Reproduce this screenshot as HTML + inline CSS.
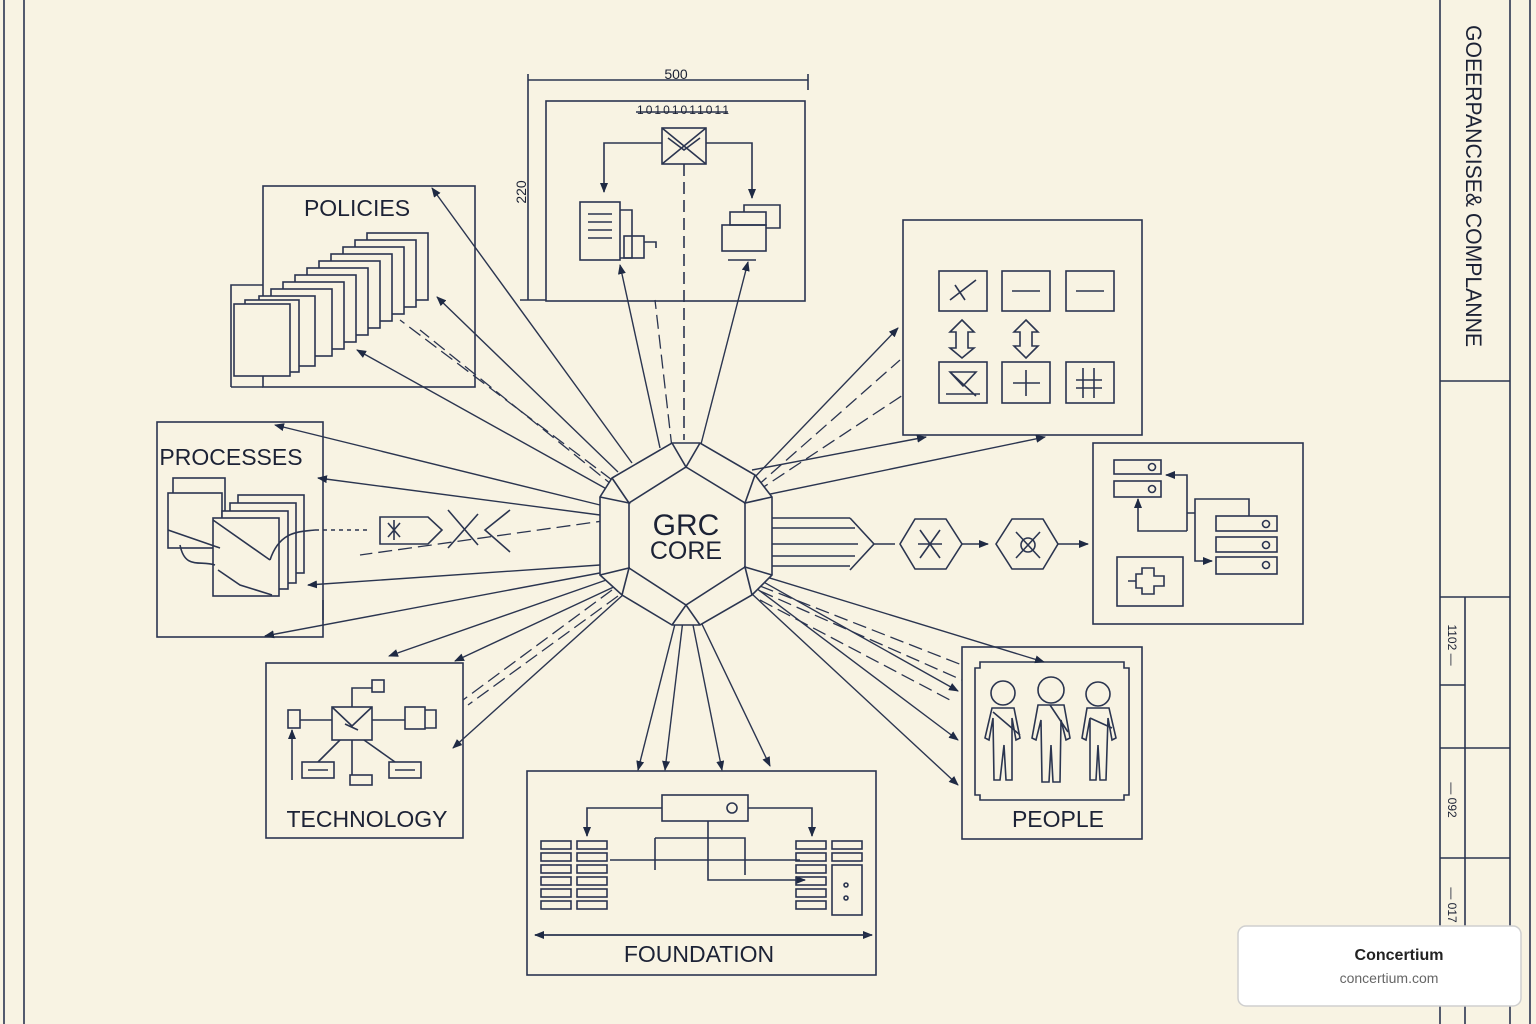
<!DOCTYPE html>
<html><head><meta charset="utf-8"><style>
html,body{margin:0;padding:0;background:#f8f3e3;}
svg{display:block}
text{font-family:"Liberation Sans",sans-serif;fill:#1c2235}
</style></head><body>
<svg width="1536" height="1024" viewBox="0 0 1536 1024" xmlns="http://www.w3.org/2000/svg">
<defs>
<marker id="a" markerWidth="10" markerHeight="8" refX="9" refY="4" orient="auto" markerUnits="userSpaceOnUse"><path d="M0,0 L10,4 L0,8 Z" fill="#1f2a44"/></marker>
</defs>
<rect width="1536" height="1024" fill="#f8f3e3"/>
<g fill="none" stroke="#2b3550" stroke-width="1.6">
<!-- frame -->
<line x1="4" y1="0" x2="4" y2="1024"/><line x1="24" y1="0" x2="24" y2="1024"/>
<line x1="1440" y1="0" x2="1440" y2="1024"/><line x1="1510" y1="0" x2="1510" y2="1024"/>
<line x1="1530" y1="0" x2="1530" y2="1024"/>
<line x1="1440" y1="381" x2="1510" y2="381"/>
<line x1="1440" y1="597" x2="1510" y2="597"/><line x1="1465" y1="597" x2="1465" y2="1024"/>
<line x1="1440" y1="685" x2="1465" y2="685"/><line x1="1440" y1="748" x2="1510" y2="748"/>
<line x1="1440" y1="858" x2="1510" y2="858"/>

<!-- dimension -->
<line x1="528" y1="80" x2="808" y2="80"/><line x1="528" y1="74" x2="528" y2="300"/>
<line x1="808" y1="74" x2="808" y2="90"/><line x1="520" y1="300" x2="546" y2="300"/>

<!-- top box -->
<rect x="546" y="101" width="259" height="200"/>
<line x1="636" y1="112" x2="728" y2="112"/>
<rect x="662" y="128" width="44" height="36"/><path d="M662,128 L706,164 M706,128 L662,164 M668,138 L684,150 L700,138"/>
<path d="M662,143 H604 V192" marker-end="url(#a)"/><path d="M706,143 H752 V198" marker-end="url(#a)"/>
<line x1="684" y1="164" x2="684" y2="440" stroke-dasharray="12,6"/>
<rect x="580" y="202" width="40" height="58"/><path d="M620,210 H632 V258 H620"/><rect x="624" y="236" width="20" height="22"/><path d="M588,214h24M588,222h24M588,230h24M588,238h24"/>
<path d="M644,242 H656 V248"/>
<rect x="722" y="225" width="44" height="26"/><rect x="730" y="212" width="36" height="13"/><path d="M744,212 V205 H780 V228 H766 M728,260 H756"/>

<!-- policies -->
<rect x="263" y="186" width="212" height="201"/>
<path d="M231,387 V285 H263"/><path d="M231,387 H263"/>
<!-- pages -->
<g fill="#f8f3e3">
<rect x="367" y="233" width="61" height="67"/><rect x="355" y="240" width="61" height="67"/><rect x="343" y="247" width="61" height="67"/><rect x="331" y="254" width="61" height="67"/><rect x="319" y="261" width="61" height="67"/><rect x="307" y="268" width="61" height="67"/><rect x="295" y="275" width="61" height="67"/><rect x="283" y="282" width="61" height="67"/><rect x="271" y="289" width="61" height="67"/><rect x="259" y="296" width="56" height="70"/><rect x="245" y="300" width="54" height="72"/><rect x="234" y="304" width="56" height="72"/>
</g>

<!-- processes -->
<rect x="157" y="422" width="166" height="215"/>
<line x1="323" y1="600" x2="323" y2="620"/>
<g fill="#f8f3e3">
<rect x="173" y="478" width="52" height="60"/><rect x="168" y="493" width="54" height="55"/>
<rect x="238" y="495" width="66" height="78"/><rect x="230" y="503" width="66" height="80"/><rect x="222" y="511" width="66" height="78"/><rect x="213" y="518" width="66" height="78"/>
</g>
<path d="M168,530 L220,548 M213,520 L270,560 M218,570 L240,585 L272,595 M180,545 C185,570 200,560 215,565"/>
<path d="M270,560 C280,530 300,532 315,530" />
<line x1="315" y1="530" x2="370" y2="530" stroke-dasharray="4,4"/>
<path d="M380,517 H428 L442,530 L428,544 H380 Z"/><path d="M388,523 L400,537 M400,523 L388,537 M394,520 V540"/>
<path d="M448,510 L478,545 M448,548 L478,514 M510,510 L485,530 L510,552"/>

<!-- technology -->
<rect x="266" y="663" width="197" height="175"/>
<rect x="332" y="707" width="40" height="33"/><path d="M332,707 L352,726 L372,707 M345,724 L358,730"/>
<rect x="288" y="710" width="12" height="18"/><path d="M300,720 H332 M372,720 H405"/>
<rect x="405" y="707" width="20" height="22"/><path d="M425,710 H436 V728 H425"/>
<path d="M352,707 V688 H372"/><rect x="372" y="680" width="12" height="12"/>
<path d="M340,740 L318,762 M364,740 L395,762 M352,740 V775"/>
<rect x="302" y="762" width="32" height="16"/><rect x="389" y="762" width="32" height="16"/><rect x="350" y="775" width="22" height="10"/>
<path d="M308,770h20M395,770h20"/>
<path d="M292,780 V730" marker-end="url(#a)"/>

<!-- foundation -->
<rect x="527" y="771" width="349" height="204"/>
<rect x="662" y="795" width="86" height="26"/><circle cx="732" cy="808" r="5"/>
<path d="M662,808 H587 V836" marker-end="url(#a)"/><path d="M748,808 H812 V836" marker-end="url(#a)"/>
<path d="M610,860 H800 M655,838 H745 V875 M655,838 V870 M708,821 V880 H805" marker-end="url(#a)"/>
<line x1="535" y1="935" x2="872" y2="935" marker-end="url(#a)"/><line x1="872" y1="935" x2="535" y2="935" marker-end="url(#a)"/>
<g>
<rect x="541" y="841" width="30" height="8"/><rect x="541" y="853" width="30" height="8"/><rect x="541" y="865" width="30" height="8"/><rect x="541" y="877" width="30" height="8"/><rect x="541" y="889" width="30" height="8"/><rect x="541" y="901" width="30" height="8"/>
<rect x="577" y="841" width="30" height="8"/><rect x="577" y="853" width="30" height="8"/><rect x="577" y="865" width="30" height="8"/><rect x="577" y="877" width="30" height="8"/><rect x="577" y="889" width="30" height="8"/><rect x="577" y="901" width="30" height="8"/>
<rect x="796" y="841" width="30" height="8"/><rect x="796" y="853" width="30" height="8"/><rect x="796" y="865" width="30" height="8"/><rect x="796" y="877" width="30" height="8"/><rect x="796" y="889" width="30" height="8"/><rect x="796" y="901" width="30" height="8"/>
<rect x="832" y="841" width="30" height="8"/><rect x="832" y="853" width="30" height="8"/><rect x="832" y="865" width="30" height="50"/>
<circle cx="846" cy="885" r="2"/><circle cx="846" cy="898" r="2"/>
</g>

<!-- people -->
<rect x="962" y="647" width="180" height="192"/>
<path d="M980,662 H1124 V668 H1129 V795 H1124 V800 H980 V795 H975 V668 H980 Z"/>
<g>
<circle cx="1003" cy="693" r="12"/><circle cx="1051" cy="690" r="13"/><circle cx="1098" cy="694" r="12"/>
<path d="M992,708 H1014 L1020,738 L1016,740 L1012,718 L1012,780 H1006 L1004,745 L1000,780 H994 L993,718 L989,740 L985,738 Z"/>
<path d="M1038,705 H1064 L1070,738 L1066,740 L1061,720 L1060,782 H1053 L1051,745 L1049,782 H1042 L1041,720 L1036,740 L1032,738 Z"/>
<path d="M1087,708 H1109 L1116,738 L1112,740 L1108,718 L1106,780 H1100 L1098,745 L1096,780 H1090 L1090,718 L1086,740 L1082,738 Z"/>
<path d="M993,712 L1020,735 M1050,705 L1068,732 M1090,718 L1112,728"/>
</g>

<!-- right-top icons -->
<rect x="903" y="220" width="239" height="215"/>
<rect x="939" y="271" width="48" height="40"/><rect x="1002" y="271" width="48" height="40"/><rect x="1066" y="271" width="48" height="40"/>
<rect x="939" y="362" width="48" height="41"/><rect x="1002" y="362" width="48" height="41"/><rect x="1066" y="362" width="48" height="41"/>
<path d="M950,300 L976,280 M955,285 L965,300 M1012,291 H1040 M1076,291 H1104"/>
<path d="M950,372 L976,396 M950,372 H976 L963,386 Z M946,394 H980 M1026,370 V396 M1013,383 H1040 M1083,368 V398 M1094,368 V398 M1076,380 H1102 M1076,388 H1102"/>
<path d="M962,320 L974,332 H968 V348 L974,348 L962,358 L950,348 H956 V332 H950 Z"/>
<path d="M1026,320 L1038,332 H1032 V346 L1038,346 L1026,358 L1014,346 H1020 V332 H1014 Z"/>

<!-- right box -->
<rect x="1093" y="443" width="210" height="181"/>
<rect x="1114" y="460" width="47" height="14"/><rect x="1114" y="481" width="47" height="16"/>
<circle cx="1152" cy="467" r="3.5"/><circle cx="1152" cy="489" r="3.5"/>
<path d="M1187,531 V475 H1166" marker-end="url(#a)"/><path d="M1187,531 H1138 V499" marker-end="url(#a)"/>
<path d="M1187,513 H1195 V499 H1249 V516 M1195,513 V561 H1212" marker-end="url(#a)"/>
<rect x="1216" y="516" width="61" height="15"/><rect x="1216" y="537" width="61" height="15"/><rect x="1216" y="557" width="61" height="17"/>
<circle cx="1266" cy="524" r="3.5"/><circle cx="1266" cy="545" r="3.5"/><circle cx="1266" cy="565" r="3.5"/>
<rect x="1117" y="557" width="66" height="49"/>
<path d="M1128,581 H1136 V574 H1142 V568 H1154 V576 H1164 V586 H1154 V594 H1142 V588 H1136 V581"/>

<!-- right flow -->
<path d="M772,518 H850 M772,528 H855 M772,544 H858 M772,556 H855 M772,566 H850"/>
<path d="M850,518 L874,544 L850,570 M874,544 H895"/>
<path d="M900,544 L915,519 H946 L962,544 L946,569 H915 Z"/>
<path d="M920,530 L940,558 M940,530 L920,558 M918,544 H942"/>
<path d="M962,544 H988" marker-end="url(#a)"/>
<path d="M996,544 L1012,519 H1043 L1058,544 L1043,569 H1012 Z"/>
<path d="M1016,532 L1040,558 M1040,532 L1016,558"/><circle cx="1028" cy="545" r="7"/>
<path d="M1058,544 H1088" marker-end="url(#a)"/>
</g>

<!-- rays -->
<g fill="none" stroke="#2b3550" stroke-width="1.4" marker-end="url(#a)">
<line x1="632" y1="463" x2="432" y2="188"/>
<line x1="618" y1="472" x2="437" y2="297"/>
<line x1="612" y1="492" x2="357" y2="350"/>
<line x1="600" y1="505" x2="275" y2="425"/>
<line x1="600" y1="515" x2="318" y2="478"/>
<line x1="600" y1="565" x2="308" y2="585"/>
<line x1="605" y1="572" x2="265" y2="636"/>
<line x1="612" y1="578" x2="389" y2="656"/>
<line x1="618" y1="585" x2="455" y2="661"/>
<line x1="624" y1="594" x2="453" y2="748"/>
<line x1="676" y1="620" x2="638" y2="770"/>
<line x1="683" y1="620" x2="665" y2="770"/>
<line x1="692" y1="620" x2="722" y2="770"/>
<line x1="700" y1="620" x2="770" y2="766"/>
<line x1="760" y1="575" x2="1044" y2="662"/>
<line x1="760" y1="580" x2="958" y2="691"/>
<line x1="756" y1="588" x2="958" y2="740"/>
<line x1="752" y1="594" x2="958" y2="785"/>
<line x1="756" y1="497" x2="1045" y2="437"/>
<line x1="752" y1="480" x2="898" y2="328"/>
<line x1="752" y1="470" x2="926" y2="437"/>
<line x1="660" y1="448" x2="620" y2="265"/>
<line x1="700" y1="448" x2="748" y2="262"/>
</g>
<g fill="none" stroke="#2b3550" stroke-width="1.3" stroke-dasharray="14,6">
<line x1="612" y1="480" x2="400" y2="320"/>
<line x1="616" y1="488" x2="420" y2="330"/>
<line x1="610" y1="520" x2="360" y2="555"/>
<line x1="612" y1="590" x2="463" y2="700"/>
<line x1="618" y1="596" x2="468" y2="705"/>
<line x1="672" y1="448" x2="655" y2="300"/>
<line x1="756" y1="487" x2="900" y2="360"/>
<line x1="756" y1="492" x2="903" y2="395"/>
<line x1="760" y1="586" x2="962" y2="665"/>
<line x1="760" y1="591" x2="962" y2="680"/>
<line x1="760" y1="600" x2="950" y2="700"/>
</g>

<!-- hexagon core -->
<g fill="#f8f3e3" stroke="#2b3550" stroke-width="1.6">
<path d="M672,443 H700 L755,475 L772,497 V575 L752,595 L700,625 H672 L622,595 L600,575 V497 L612,478 Z"/>
<path d="M686,467 L745,503 V567 L686,605 L629,568 V503 Z"/>
<path fill="none" d="M672,443 L686,467 L700,443 M755,475 L745,503 L772,497 M772,575 L745,567 L752,595 M672,625 L686,605 L700,625 M622,595 L629,568 L600,575 M600,497 L629,503 L612,478"/>
</g>
<text x="686" y="535" font-size="30" text-anchor="middle">GRC</text>
<text x="686" y="559" font-size="25" text-anchor="middle">CORE</text>

<!-- labels -->
<text x="357" y="216" font-size="23" text-anchor="middle">POLICIES</text>
<text x="231" y="465" font-size="23" text-anchor="middle">PROCESSES</text>
<text x="367" y="827" font-size="23" text-anchor="middle">TECHNOLOGY</text>
<text x="699" y="962" font-size="23" text-anchor="middle">FOUNDATION</text>
<text x="1058" y="827" font-size="23" text-anchor="middle">PEOPLE</text>
<text x="676" y="79" font-size="14" text-anchor="middle">500</text>
<text x="637" y="114" font-size="12" textLength="92">10101011011</text>
<text transform="translate(526,192) rotate(-90)" font-size="14" text-anchor="middle">220</text>
<text transform="translate(1466,186) rotate(90)" font-size="22" text-anchor="middle" textLength="322" lengthAdjust="spacingAndGlyphs">GOEERPANCISE&amp; COMPLANNE</text>
<text transform="translate(1448,645) rotate(90)" font-size="12" text-anchor="middle">1102 —</text>
<text transform="translate(1448,800) rotate(90)" font-size="12" text-anchor="middle">— 092</text>
<text transform="translate(1448,905) rotate(90)" font-size="12" text-anchor="middle">— 017</text>

<!-- badge -->
<rect x="1238" y="926" width="283" height="80" rx="8" fill="#ffffff" stroke="#cfcfcf" stroke-width="1.5"/>
<text x="1399" y="960" font-size="16" font-weight="bold" text-anchor="middle" style="fill:#222">Concertium</text>
<text x="1389" y="983" font-size="14" text-anchor="middle" style="fill:#666">concertium.com</text>
</svg>
</body></html>
